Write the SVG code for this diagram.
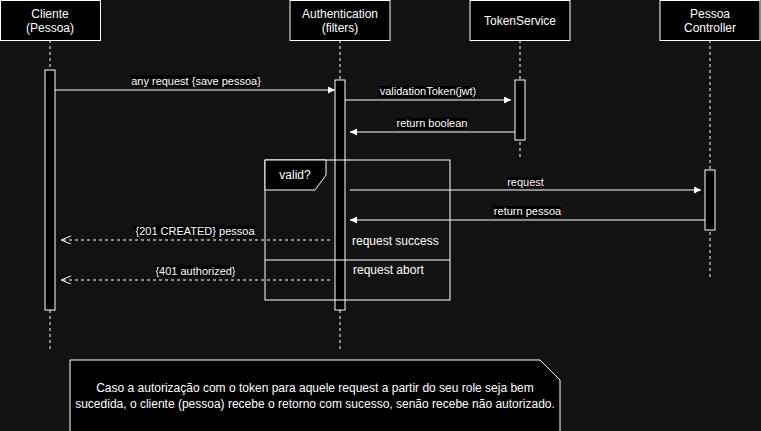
<svg xmlns="http://www.w3.org/2000/svg" width="761" height="431" viewBox="0 0 761 431">
<style>
.box{fill:#000;stroke:#fff;stroke-width:1}
.life{stroke:#fff;stroke-width:1;stroke-dasharray:3 3;fill:none}
.msg{stroke:#fff;stroke-width:1;fill:none}
.ret{stroke:#fff;stroke-width:1;fill:none;stroke-dasharray:3 3}
.t{font-family:"Liberation Sans",Arial,sans-serif;fill:#fff;font-size:12px}
.lbl{font-family:"Liberation Sans",Arial,sans-serif;fill:#fff;font-size:11px;text-anchor:middle}
.lbg{fill:#000}
</style>
<defs>
<marker id="block" markerUnits="userSpaceOnUse" markerWidth="8" markerHeight="8" refX="7" refY="3.5" orient="auto">
<path d="M0,0 L7,3.5 L0,7 z" fill="#fff"/>
</marker>
<marker id="open" markerUnits="userSpaceOnUse" markerWidth="11" markerHeight="10" refX="10" refY="4" orient="auto">
<path d="M0,0 L10,4 L0,8" fill="none" stroke="#fff" stroke-width="1"/>
</marker>
</defs>
<rect x="0" y="0" width="761" height="431" fill="#121212"/>

<g id="lifelines">
<line class="life" x1="50" y1="40" x2="50" y2="350"/>
<line class="life" x1="340" y1="40" x2="340" y2="350"/>
<line class="life" x1="520" y1="40" x2="520" y2="160"/>
<line class="life" x1="710" y1="40" x2="710" y2="280"/>
</g>

<g id="cliente">
<rect class="box" x="0.5" y="0.5" width="100" height="40"/>
<text class="t" x="50" y="18" text-anchor="middle">Cliente</text>
<text class="t" x="50" y="32" text-anchor="middle">(Pessoa)</text>
<rect class="box" x="45" y="70" width="10" height="240"/>
</g>

<g id="authentication">
<rect class="box" x="290" y="0.5" width="100" height="40"/>
<text class="t" x="340" y="18" text-anchor="middle">Authentication</text>
<text class="t" x="340" y="32" text-anchor="middle">(filters)</text>
<rect class="box" x="335" y="80" width="10" height="230"/>
</g>

<g id="tokenservice">
<rect class="box" x="470" y="0.5" width="100" height="40"/>
<text class="t" x="520" y="24.5" text-anchor="middle">TokenService</text>
<rect class="box" x="515" y="80" width="10" height="60"/>
</g>

<g id="pessoacontroller">
<rect class="box" x="660" y="0.5" width="100" height="40"/>
<text class="t" x="710" y="18" text-anchor="middle">Pessoa</text>
<text class="t" x="710" y="32" text-anchor="middle">Controller</text>
<rect class="box" x="705" y="170" width="10" height="60"/>
</g>

<g id="frame-valid">
<rect x="265" y="160" width="185" height="140" fill="none" stroke="#fff"/>
<line x1="265" y1="260" x2="450" y2="260" stroke="#fff"/>
<path d="M265,160 L326,160 L326,175 L315,190 L265,190 z" fill="#000" stroke="#fff"/>
<text class="t" x="295" y="179" text-anchor="middle">valid?</text>
<text class="t" x="352" y="245">request success</text>
<text class="t" x="353" y="274">request abort</text>
</g>

<g id="connectors">
<line class="msg" x1="55" y1="90" x2="335" y2="90" marker-end="url(#block)"/>
<rect class="lbg" x="131" y="75" width="130" height="12"/>
<text class="lbl" x="196" y="84.5">any request {save pessoa}</text>

<line class="msg" x1="345" y1="100" x2="511" y2="100" marker-end="url(#block)"/>
<rect class="lbg" x="379" y="86" width="98" height="11"/>
<text class="lbl" x="428" y="94.5">validationToken(jwt)</text>

<line class="msg" x1="515" y1="132" x2="350" y2="132" marker-end="url(#block)"/>
<rect class="lbg" x="397" y="118" width="70" height="11"/>
<text class="lbl" x="432" y="127">return boolean</text>

<line class="msg" x1="350" y1="190" x2="701" y2="190" marker-end="url(#block)"/>
<rect class="lbg" x="507" y="177" width="37" height="10"/>
<text class="lbl" x="525.5" y="185.5">request</text>

<line class="msg" x1="705" y1="220" x2="350" y2="220" marker-end="url(#block)"/>
<rect class="lbg" x="494" y="206" width="67" height="11"/>
<text class="lbl" x="527.5" y="215">return pessoa</text>

<line class="ret" x1="330" y1="240" x2="61" y2="240" marker-end="url(#open)"/>
<rect class="lbg" x="135" y="225" width="120" height="12"/>
<text class="lbl" x="195" y="235">{201 CREATED} pessoa</text>

<line class="ret" x1="330" y1="280" x2="61" y2="280" marker-end="url(#open)"/>
<rect class="lbg" x="155" y="265" width="81" height="12"/>
<text class="lbl" x="195.5" y="275">{401 authorized}</text>
</g>

<g id="note">
<path d="M70,360 L540,360 L560,380 L560,440 L70,440 z" fill="#000" stroke="#fff"/>
<text class="t" x="315" y="392" text-anchor="middle">Caso a autorização com o token para aquele request a partir do seu role seja bem</text>
<text class="t" x="315" y="408" text-anchor="middle">sucedida, o cliente (pessoa) recebe o retorno com sucesso, senão recebe não autorizado.</text>
</g>
</svg>
